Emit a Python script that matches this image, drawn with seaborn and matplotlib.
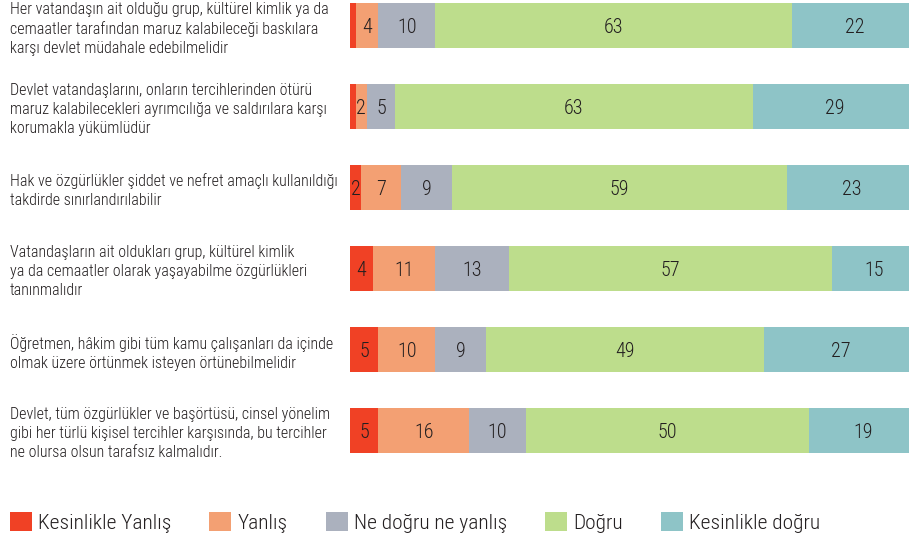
import numpy as np
import pandas as pd
import matplotlib
matplotlib.use("Agg")
import matplotlib.pyplot as plt
import matplotlib.transforms as mtransforms
from matplotlib import font_manager
from matplotlib.patches import Patch
import seaborn as sns

# Data
questions = [
    "Her vatandaşın ait olduğu grup, kültürel kimlik ya da\ncemaatler tarafından maruz kalabileceği baskılara\nkarşı devlet müdahale edebilmelidir",
    "Devlet vatandaşlarını, onların tercihlerinden ötürü\nmaruz kalabilecekleri ayrımcılığa ve saldırılara karşı\nkorumakla yükümlüdür",
    "Hak ve özgürlükler şiddet ve nefret amaçlı kullanıldığı\ntakdirde sınırlandırılabilir",
    "Vatandaşların ait oldukları grup, kültürel kimlik\nya da cemaatler olarak yaşayabilme özgürlükleri\ntanınmalıdır",
    "Öğretmen, hâkim gibi tüm kamu çalışanları da içinde\nolmak üzere örtünmek isteyen örtünebilmelidir",
    "Devlet, tüm özgürlükler ve başörtüsü, cinsel yönelim\ngibi her türlü kişisel tercihler karşısında, bu tercihler\nne olursa olsun tarafsız kalmalıdır.",
]
categories = ["Kesinlikle Yanlış", "Yanlış", "Ne doğru ne yanlış", "Doğru", "Kesinlikle doğru"]
kesinlikle_yanlis = [1, 1, 2, 4, 5, 5]
yanlis = [4, 2, 7, 11, 10, 16]
ne_dogru_ne_yanlis = [10, 5, 9, 13, 9, 10]
dogru = [63, 63, 59, 57, 49, 50]
kesinlikle_dogru = [22, 29, 23, 15, 27, 19]
colors = ["#F04125", "#F3A073", "#ABB1BE", "#BDDD8C", "#8EC4C7"]

df = pd.DataFrame({
    "q": [f"q{i}" for i in range(len(questions))],
    categories[0]: kesinlikle_yanlis,
    categories[1]: yanlis,
    categories[2]: ne_dogru_ne_yanlis,
    categories[3]: dogru,
    categories[4]: kesinlikle_dogru,
})
cum = df[categories].cumsum(axis=1)

# use a condensed face if one is installed, plain Roboto otherwise
installed = {f.name for f in font_manager.fontManager.ttflist}
if "Roboto Condensed" in installed:
    fam, q_size, v_size, l_size = "Roboto Condensed", 11.5, 14.5, 15.4
else:
    fam, q_size, v_size, l_size = "Roboto", 10, 13.5, 13
plt.rcParams["font.family"] = [fam, "DejaVu Sans"]
plt.rcParams["font.weight"] = "light"

fig = plt.figure(figsize=(9.09, 5.42), dpi=100)
ax = fig.add_axes([350 / 909, 82 / 542, 559 / 909, 460 / 542])

# stacked bars: draw cumulative totals from the largest down
for cat, col in zip(categories[::-1], colors[::-1]):
    sns.barplot(x=cum[cat], y=df["q"], color=col, saturation=1,
                orient="h", width=0.556, ax=ax)

ax.set_xlim(0, 98.6)
ax.set_ylim(5.364, -0.315)
ax.axis("off")

# value labels
for i in range(len(df)):
    for cat in categories:
        v = df.loc[i, cat]
        if v >= 2:
            ax.text(cum.loc[i, cat] - v / 2, i + 0.02, str(v), ha="center", va="center",
                    fontsize=v_size, color="#231F20")

# question labels on the left
trans = mtransforms.blended_transform_factory(ax.transAxes, ax.transData)
for i, q in enumerate(questions):
    ax.text(-340 / 559, i + 0.04, q, transform=trans, ha="left", va="center",
            fontsize=q_size, color="#231F20", linespacing=1.33)

handles = [Patch(facecolor=c, edgecolor="none") for c in colors]
fig.legend(handles, categories, ncol=5, loc="lower left",
           bbox_to_anchor=(10 / 909, 9 / 542), frameon=False, fontsize=l_size,
           handlelength=1.03, handleheight=1.03, handletextpad=0.28,
           columnspacing=1.78, borderpad=0, borderaxespad=0,
           labelcolor="#231F20")

fig.savefig("out.png", dpi=100)
